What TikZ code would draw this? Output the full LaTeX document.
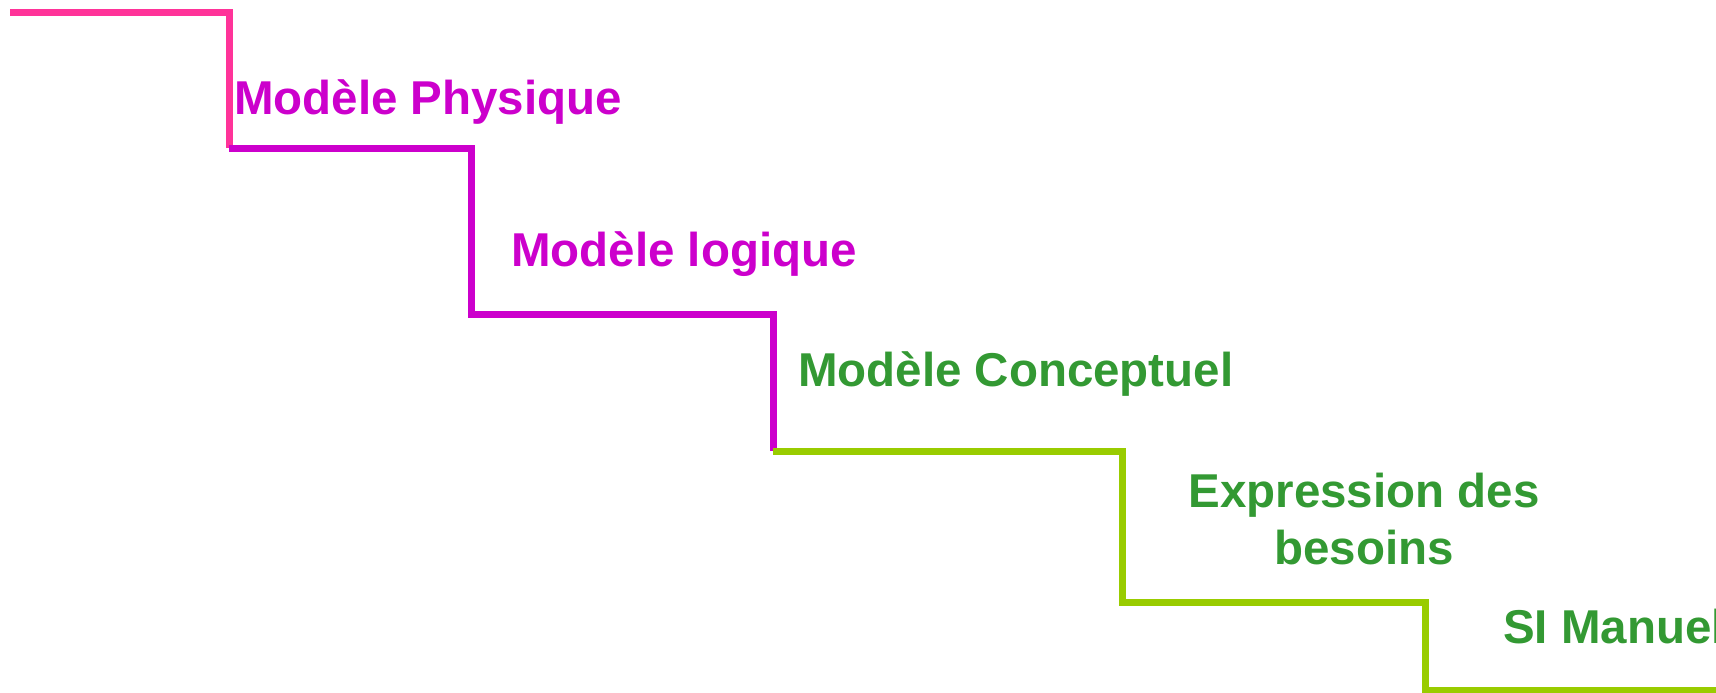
\documentclass[tikz,border=0pt]{standalone}
\usepackage{fontspec}
\setmainfont{Liberation Sans}
\definecolor{pinkline}{HTML}{FF3399}
\definecolor{magline}{HTML}{CC00CC}
\definecolor{greenline}{HTML}{99CC00}
\definecolor{magtext}{HTML}{CC00CC}
\definecolor{greentext}{HTML}{339933}
\tikzset{
  stair/.style={line width=7pt, line join=miter, line cap=butt},
  label/.style={inner sep=0pt, outer sep=0pt, font=\fontsize{47.5}{57}\selectfont\bfseries}
}
\begin{document}
\begin{tikzpicture}[x=1pt,y=-1pt]
\useasboundingbox (0,0) rectangle (1716,693);
\begin{scope}
\clip (0,0) rectangle (1716,693);
\coordinate (p0) at (10,13);
\coordinate (p1) at (229,13);
\coordinate (p2) at (229,148);
\coordinate (p3) at (471,148);
\coordinate (p4) at (471,314);
\coordinate (p5) at (773,314);
\coordinate (p6) at (773,451);
\coordinate (p7) at (1122,451);
\coordinate (p8) at (1122,602);
\coordinate (p9) at (1425,602);
\coordinate (p10) at (1425,690);
\coordinate (p11) at (1720,690);
\draw[stair, pinkline] (p0) -- (p1) -- (p2);
\draw[stair, magline] (p2) -- (p3) -- (p4) -- (p5) -- (p6);
\draw[stair, greenline] (p6) -- (p7) -- (p8) -- (p9) -- (p10) -- (p11);
\node[label, magtext, anchor=base west] (phys) at (234,114) {Modèle Physique};
\node[label, magtext, anchor=base west] (logi) at (511,266) {Modèle logique};
\node[label, greentext, anchor=base west] (conc) at (798,386) {Modèle Conceptuel};
\node[label, greentext, anchor=base, align=center] (expr) at (1364,564) {Expression des\\besoins};
\node[label, greentext, anchor=base west] (si) at (1503,643) {SI Manuel};
\end{scope}
\end{tikzpicture}
\end{document}
